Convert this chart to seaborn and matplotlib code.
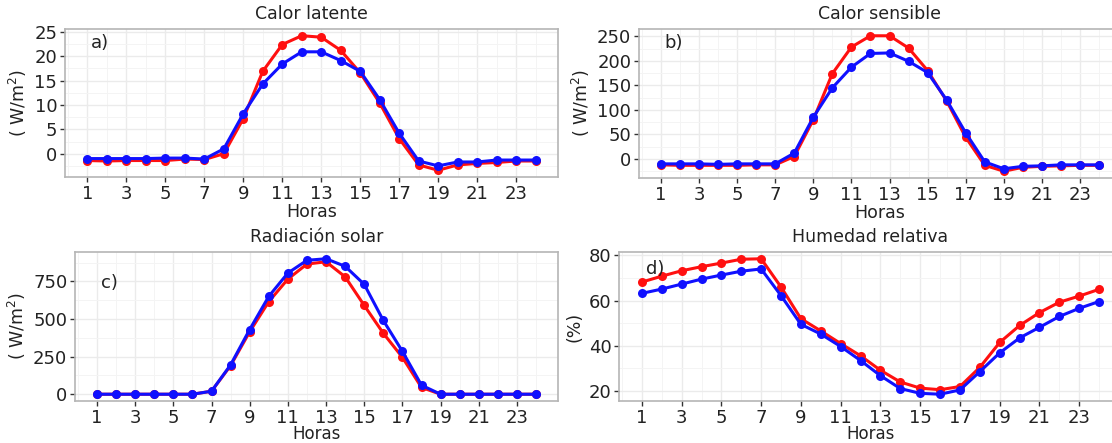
import matplotlib
matplotlib.use("Agg")
import matplotlib.pyplot as plt
import seaborn as sns
import pandas as pd
import numpy as np

# ---------------- data ----------------
hours = [1, 2, 3, 4, 5, 6, 7, 8, 9, 10, 11, 12, 13, 14, 15, 16, 17, 18, 19, 20, 21, 22, 23, 24]

latent_red = [-1.4, -1.5, -1.4, -1.4, -1.4, -1.1, -1.2, 0.0, 7.2, 16.9, 22.4, 24.2,
              23.9, 21.2, 16.6, 10.4, 3.1, -2.3, -3.4, -2.3, -2.0, -1.8, -1.5, -1.5]
latent_blue = [-1.0, -1.0, -1.0, -1.0, -0.9, -0.9, -1.1, 1.0, 8.2, 14.3, 18.4, 20.9,
               20.9, 19.1, 16.9, 11.1, 4.2, -1.5, -2.5, -1.7, -1.7, -1.3, -1.3, -1.3]

sensible_red = [-12, -13, -13, -13, -13, -12, -12, 5, 80, 174, 228, 251,
                251, 226, 180, 118, 44, -13, -25, -17, -15, -14, -13, -13]
sensible_blue = [-10, -10, -10, -11, -10, -10, -10, 12, 85, 145, 187, 215,
                 216, 199, 176, 120, 53, -6, -20, -15, -14, -12, -12, -12]

solar_red = [0, 0, 0, 0, 0, 0, 20, 190, 415, 615, 765, 865,
             880, 780, 590, 405, 245, 45, 0, 0, 0, 0, 0, 0]
solar_blue = [0, 0, 0, 0, 0, 0, 20, 195, 430, 650, 805, 890,
              900, 850, 730, 490, 285, 60, 0, 0, 0, 0, 0, 0]

rh_red = [68.2, 70.8, 73.2, 75.0, 76.6, 78.3, 78.5, 66.0, 52.0, 46.6, 41.0, 35.6,
          29.2, 24.0, 21.3, 20.6, 22.0, 30.5, 41.5, 49.0, 54.7, 59.3, 62.0, 65.0]
rh_blue = [63.2, 65.1, 67.3, 69.5, 71.3, 73.0, 74.0, 62.2, 49.5, 45.2, 39.7, 33.5,
           26.8, 21.1, 19.0, 18.6, 20.5, 28.6, 36.9, 43.5, 48.2, 53.0, 56.6, 59.6]

series_names = ["Serie 1", "Serie 2"]
titles = ["Calor latente", "Calor sensible", "Radiación solar", "Humedad relativa"]
panel_tags = ["a)", "b)", "c)", "d)"]
ylabels = ["( W/m$^{2}$)", "( W/m$^{2}$)", "( W/m$^{2}$)", "(%)"]
xlabel = "Horas"
xticks = [1, 3, 5, 7, 9, 11, 13, 15, 17, 19, 21, 23]
yticks_list = [[0, 5, 10, 15, 20, 25], [0, 50, 100, 150, 200, 250],
               [0, 250, 500, 750], [20, 40, 60, 80]]
tag_pos = [(1.2, 22.8), (1.2, 236), (1.2, 740), (1.2, 74)]

# ---------------- style ----------------
sns.set_theme(style="white")
plt.rcParams['font.family'] = ['DejaVu Sans']
plt.rcParams['axes.edgecolor'] = '#B5B5B5'
plt.rcParams['axes.linewidth'] = 1.2

fig = plt.figure(figsize=(11.12, 4.43), dpi=100)
W, H = 1112, 443
boxes_px = [(65, 29, 558, 177), (639, 29, 1121, 178), (75, 252, 558, 401), (619, 252, 1122, 401)]
axes = []
for (l, t, r, b) in boxes_px:
    axes.append(fig.add_axes([l / W, 1 - b / H, (r - l) / W, (b - t) / H]))

palette = {series_names[0]: "#FF1010", series_names[1]: "#1010FF"}
datasets = [(latent_red, latent_blue), (sensible_red, sensible_blue),
            (solar_red, solar_blue), (rh_red, rh_blue)]

for i, ax in enumerate(axes):
    red, blue = datasets[i]
    df = pd.DataFrame({
        "hora": hours + hours,
        "valor": list(red) + list(blue),
        "serie": [series_names[0]] * len(hours) + [series_names[1]] * len(hours),
    })
    sns.lineplot(data=df, x="hora", y="valor", hue="serie", palette=palette,
                 marker="o", markersize=6.5, markeredgewidth=0, linewidth=2.2,
                 ax=ax, legend=False, zorder=3)
    allv = list(red) + list(blue)
    lo, hi = min(allv), max(allv)
    pad = 0.05 * (hi - lo)
    yt = yticks_list[i]
    ax.set_xticks(xticks)
    ax.set_yticks(yt)
    ax.set_xticks([h for h in range(0, 26, 2)], minor=True)
    step = yt[1] - yt[0]
    ax.set_yticks(np.arange(yt[0] - step / 2, yt[-1] + step, step), minor=True)
    ax.set_ylim(lo - pad, hi + pad)
    ax.set_xlim(1 - 0.05 * 23, 24 + 0.05 * 23)
    ax.grid(True, which="major", color="#EBEBEB", linewidth=1.0, zorder=0)
    ax.grid(True, which="minor", color="#F4F4F4", linewidth=0.7, zorder=0)
    ax.set_axisbelow(True)
    ax.tick_params(axis="both", which="major", direction="out", length=3.5, width=1.0,
                   color="#333333", labelsize=13, labelcolor="#222222", pad=2,
                   bottom=True, left=True)
    ax.tick_params(axis="both", which="minor", length=0)
    ax.set_title(titles[i], fontsize=12.5, color="#222222", pad=7)
    ax.set_xlabel(xlabel, fontsize=(12.5 if i < 2 else 12), color="#222222",
                  labelpad=(0 if i < 2 else -1))
    ax.set_ylabel(ylabels[i], fontsize=12.5, color="#222222", labelpad=4)
    ax.text(tag_pos[i][0], tag_pos[i][1], panel_tags[i], fontsize=13, color="#222222",
            ha="left", va="center")
    for s in ax.spines.values():
        s.set_color("#B5B5B5")

fig.savefig("out.png", dpi=100)
